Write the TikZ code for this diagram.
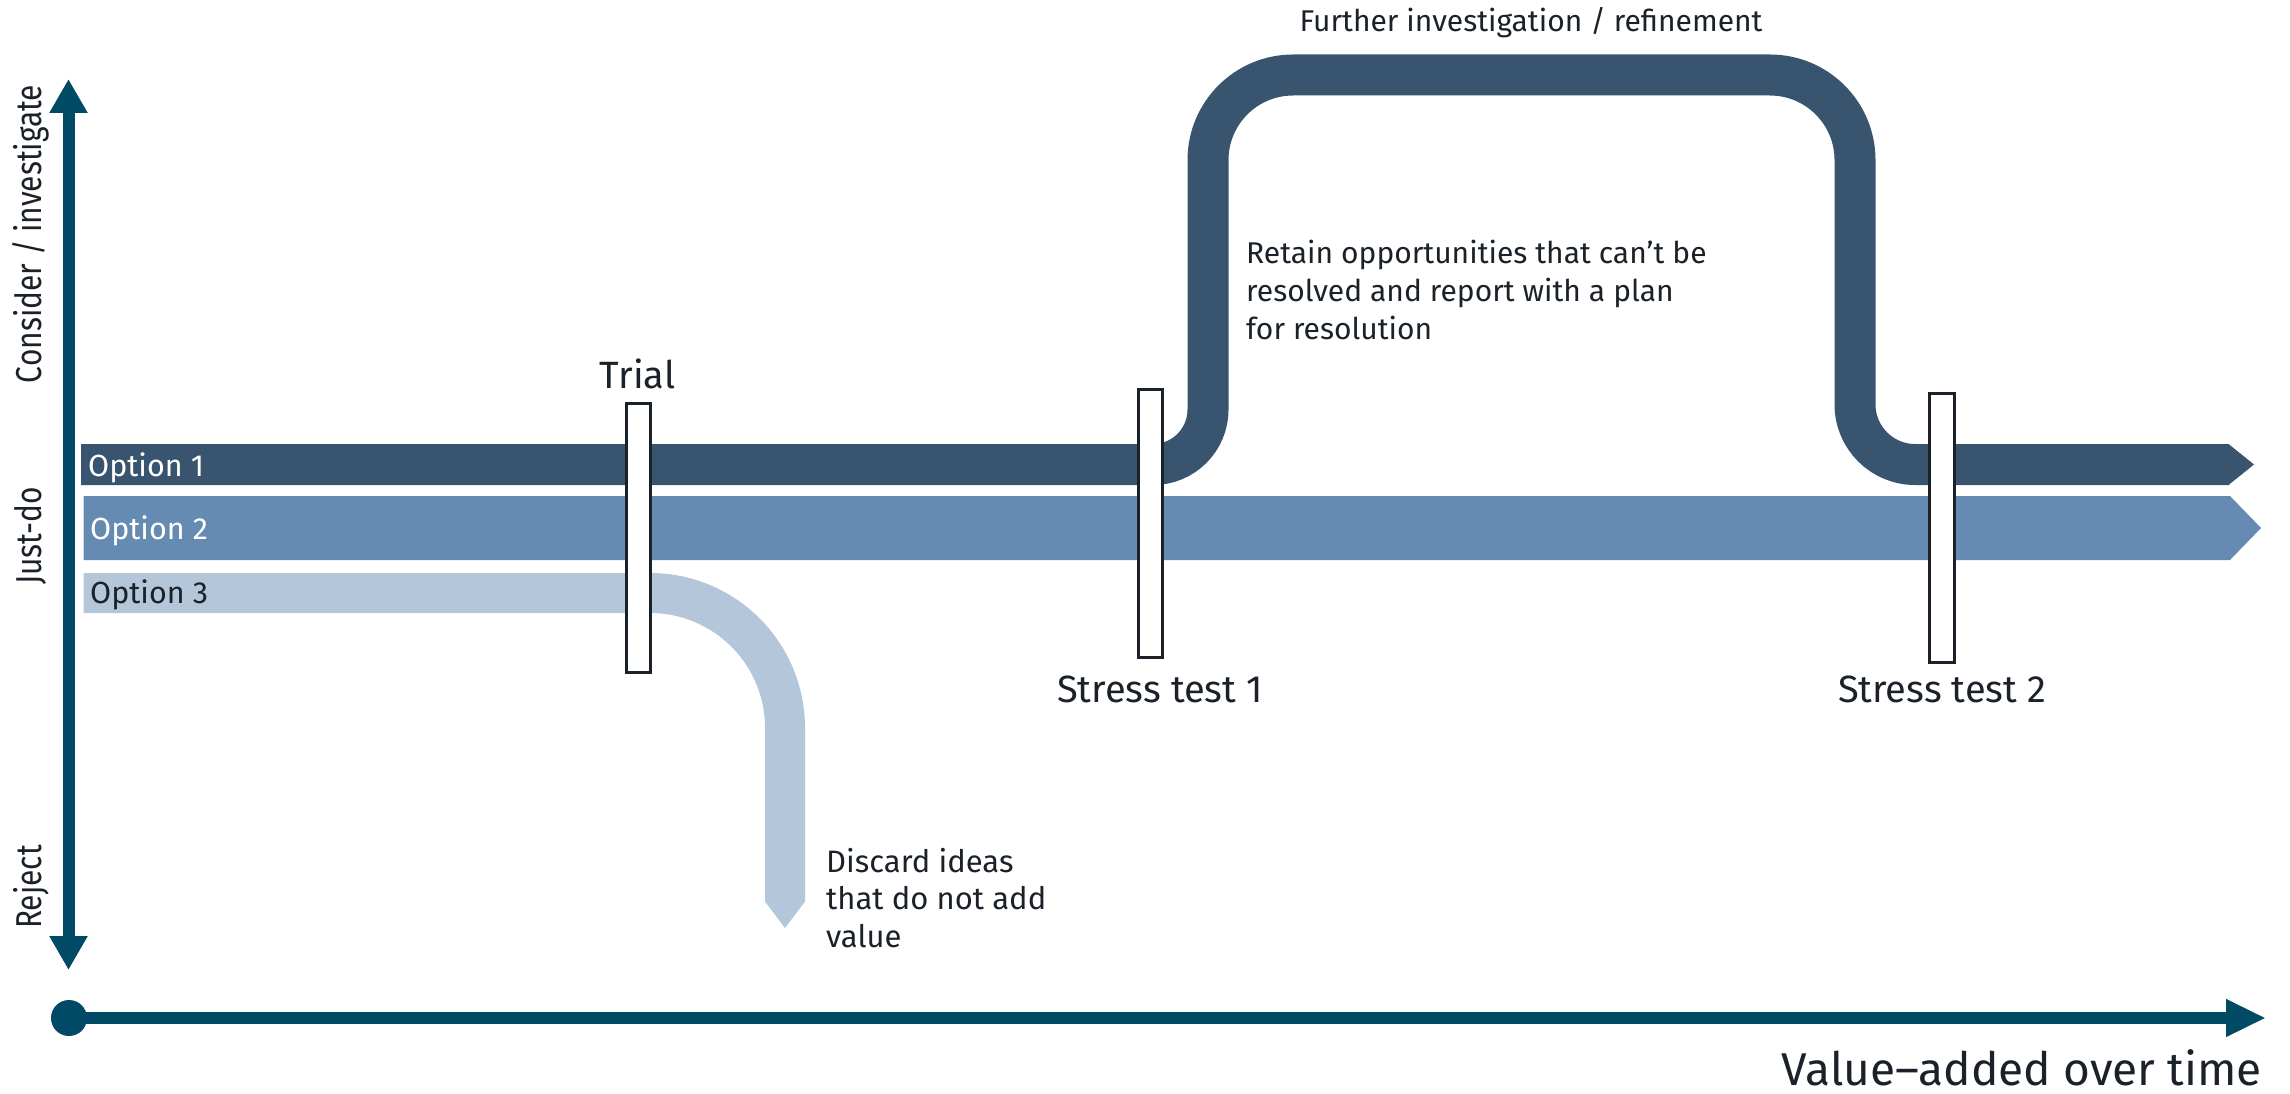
\documentclass[tikz,border=0pt]{standalone}
\usepackage{fontspec}
\setmainfont{Fira Sans}
\newfontfamily\lightfont{Fira Sans}
\usetikzlibrary{arrows.meta}

\definecolor{axisblue}{RGB}{0,74,102}
\definecolor{laneone}{RGB}{57,84,111}
\definecolor{lanetwo}{RGB}{102,139,178}
\definecolor{lanethree}{RGB}{179,198,218}
\definecolor{ink}{RGB}{27,33,41}

\begin{document}
\begin{tikzpicture}[x=1pt,y=-1pt,
  lbl/.style={text=ink, inner sep=0pt},
  optlabel/.style={inner sep=0pt, anchor=base west, font=\fontsize{30.5}{36}\selectfont},
  gatelabel/.style={lbl, anchor=base, font=\fontsize{38}{46}\selectfont},
  note/.style={lbl, align=left, anchor=north west},
  axislabel/.style={lbl, rotate=90, anchor=base, font=\lightfont\fontsize{36}{42}\selectfont},
  gate/.style={draw=ink, fill=white, line width=3pt, minimum width=24pt, inner sep=0pt},
  axisline/.style={axisblue, line width=12pt},
]
\useasboundingbox (0,0) rectangle (2290,1094);

% ---- axes ----
\coordinate (vtop) at (68.5,79);
\coordinate (vbot) at (68.5,970);
\draw[axisline, {Triangle[length=34pt,width=36pt]}-{Triangle[length=34pt,width=36pt]}] (vtop) -- (vbot);

\fill[axisblue] (69,1018) circle[radius=18];
\coordinate (horig) at (69,1018);
\coordinate (hend) at (2266,1018);
\draw[axisline, -{Triangle[length=40pt,width=35pt]}] (horig) -- (hend);

\node[axislabel] (consider) at (41.5,234) {\scalebox{0.83}[1]{Consider / investigate}};
\node[axislabel] (justdo) at (41.5,536) {\scalebox{0.83}[1]{Just-do}};
\node[axislabel] (reject) at (41.5,887) {\scalebox{0.83}[1]{Reject}};

\node[lbl, anchor=base east, text depth=0pt, font=\lightfont\fontsize{46}{54}\selectfont] (valueadded) at (2262,1085) {Value–added over time};

% ---- option 2: straight lane ----
\fill[lanetwo] (83.5,496) -- (2230,496) -- (2261,528) -- (2230,560) -- (83.5,560) -- cycle;

% ---- option 1: detour through further investigation ----
\draw[laneone, line width=41pt]
  (81,464.5) -- (1153,464.5)
  .. controls (1183.4,464.5) and (1208,439.9) .. (1208,409.5)
  -- (1208,160)
  .. controls (1208,113.1) and (1246.1,75) .. (1293,75)
  -- (1770,75)
  .. controls (1816.9,75) and (1855,113.1) .. (1855,160)
  -- (1855,404.5)
  .. controls (1855,437.6) and (1881.9,464.5) .. (1915,464.5)
  -- (2229,464.5);
\fill[laneone] (2228.5,444) -- (2254,464.5) -- (2228.5,485) -- cycle;

% ---- option 3: discarded after the trial ----
\draw[lanethree, line width=40pt]
  (83.5,593) -- (650,593)
  .. controls (724.6,593) and (785,653.4) .. (785,728)
  -- (785,902);
\fill[lanethree] (765,901.5) -- (785,928) -- (805,901.5) -- cycle;

% ---- lane labels ----
\node[optlabel, text=white] (opt1) at (88,476.7) {Option 1};
\node[optlabel, text=white] (opt2) at (90,539) {Option 2};
\node[optlabel, text=ink] (opt3) at (90,603) {Option 3};

% ---- gates ----
\node[gate, minimum height=269pt] (trialgate) at (638,537.5) {};
\node[gate, minimum height=268pt] (stressone) at (1150,523) {};
\node[gate, minimum height=269pt, minimum width=25pt] (stresstwo) at (1941.5,527.5) {};

\node[gatelabel] (trial) at (637.5,388) {Trial};
\node[gatelabel] (stressonelbl) at (1160,702) {Stress test 1};
\node[gatelabel] (stresstwolbl) at (1942,702) {Stress test 2};

% ---- notes ----
\node[lbl, anchor=base, font=\lightfont\fontsize{30}{36}\selectfont] (further) at (1531,32) {Further investigation / refinement};
\node[note, font=\lightfont\fontsize{30}{38}\selectfont] (retain) at (1246,240)
  {Retain opportunities that can’t be\\resolved and report with a plan\\for resolution};
\node[note, font=\lightfont\fontsize{31}{37.5}\selectfont] (discard) at (826,848)
  {Discard ideas\\that do not add\\value};
\end{tikzpicture}
\end{document}
